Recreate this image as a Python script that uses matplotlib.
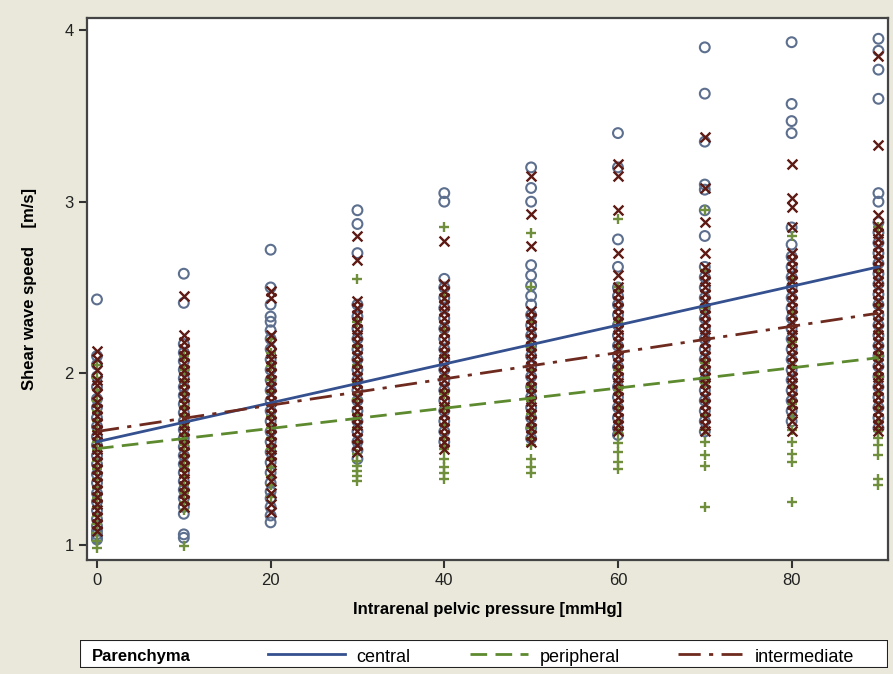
import matplotlib.pyplot as plt
from matplotlib.lines import Line2D
from matplotlib.patches import Rectangle

# pressure levels [mmHg]
pressure = [0, 10, 20, 30, 40, 50, 60, 70, 80, 90]

# shear wave speed readings per pressure level
central = [
    [2.43, 2.10, 2.05, 1.98, 1.92, 1.85, 1.80, 1.74, 1.69, 1.63, 1.58, 1.52, 1.47, 1.41, 1.36, 1.30, 1.25, 1.20, 1.15, 1.11, 1.08, 1.06, 1.04, 1.03],
    [2.58, 2.41, 2.17, 2.12, 2.07, 2.02, 1.97, 1.92, 1.87, 1.82, 1.77, 1.72, 1.67, 1.62, 1.57, 1.52, 1.47, 1.42, 1.37, 1.32, 1.27, 1.22, 1.18, 1.06, 1.04],
    [2.72, 2.50, 2.40, 2.33, 2.30, 2.25, 2.20, 2.14, 2.08, 2.02, 1.96, 1.90, 1.84, 1.78, 1.72, 1.66, 1.60, 1.54, 1.48, 1.42, 1.36, 1.31, 1.27, 1.22, 1.17, 1.13],
    [2.95, 2.87, 2.70, 2.40, 2.33, 2.26, 2.20, 2.14, 2.08, 2.02, 1.96, 1.90, 1.84, 1.78, 1.72, 1.66, 1.60, 1.55, 1.50],
    [3.05, 3.00, 2.55, 2.50, 2.44, 2.38, 2.32, 2.26, 2.20, 2.14, 2.08, 2.02, 1.96, 1.90, 1.84, 1.78, 1.72, 1.66, 1.60],
    [3.20, 3.08, 3.00, 2.63, 2.57, 2.51, 2.45, 2.40, 2.34, 2.28, 2.22, 2.16, 2.10, 2.04, 1.98, 1.92, 1.86, 1.80, 1.74, 1.68, 1.62],
    [3.40, 3.20, 2.78, 2.62, 2.50, 2.45, 2.40, 2.34, 2.28, 2.22, 2.16, 2.10, 2.04, 1.98, 1.92, 1.86, 1.80, 1.74, 1.68, 1.64],
    [3.90, 3.63, 3.35, 3.10, 3.07, 2.95, 2.80, 2.62, 2.56, 2.50, 2.44, 2.38, 2.32, 2.26, 2.20, 2.14, 2.08, 2.02, 1.96, 1.90, 1.84, 1.78, 1.72, 1.66],
    [3.93, 3.57, 3.47, 3.40, 2.85, 2.75, 2.68, 2.62, 2.56, 2.50, 2.44, 2.38, 2.32, 2.26, 2.20, 2.14, 2.08, 2.02, 1.96, 1.90, 1.84, 1.78, 1.72],
    [3.95, 3.88, 3.77, 3.60, 3.05, 3.00, 2.88, 2.82, 2.76, 2.70, 2.64, 2.58, 2.52, 2.46, 2.40, 2.34, 2.28, 2.22, 2.16, 2.10, 2.04, 1.98, 1.92, 1.86, 1.80, 1.74, 1.68],
]
peripheral = [
    [2.05, 1.97, 1.90, 1.84, 1.78, 1.72, 1.66, 1.60, 1.55, 1.49, 1.44, 1.38, 1.33, 1.27, 1.22, 1.17, 1.12, 1.07, 1.02, 0.98],
    [2.10, 2.02, 1.95, 1.88, 1.81, 1.75, 1.70, 1.64, 1.58, 1.52, 1.46, 1.40, 1.35, 1.30, 1.25, 1.20, 0.99],
    [2.20, 2.12, 2.04, 1.96, 1.89, 1.82, 1.75, 1.68, 1.62, 1.56, 1.50, 1.45, 1.40, 1.35, 1.28],
    [2.55, 2.30, 2.15, 2.05, 1.95, 1.85, 1.76, 1.68, 1.60, 1.53, 1.49, 1.46, 1.43, 1.40, 1.37],
    [2.85, 2.45, 2.25, 2.10, 1.98, 1.88, 1.79, 1.70, 1.62, 1.56, 1.50, 1.45, 1.42, 1.38],
    [2.82, 2.50, 2.30, 2.15, 2.02, 1.92, 1.84, 1.76, 1.68, 1.62, 1.58, 1.50, 1.45, 1.42],
    [2.90, 2.50, 2.30, 2.15, 2.02, 1.90, 1.80, 1.72, 1.65, 1.59, 1.54, 1.48, 1.44],
    [2.95, 2.60, 2.38, 2.20, 2.06, 1.94, 1.84, 1.75, 1.67, 1.60, 1.52, 1.46, 1.22],
    [2.80, 2.55, 2.35, 2.18, 2.04, 1.92, 1.82, 1.74, 1.67, 1.60, 1.53, 1.48, 1.25],
    [2.85, 2.60, 2.40, 2.24, 2.10, 1.98, 1.88, 1.80, 1.72, 1.66, 1.62, 1.58, 1.52, 1.38, 1.35],
]
intermediate = [
    [2.13, 2.08, 2.02, 1.96, 1.93, 1.88, 1.83, 1.79, 1.75, 1.71, 1.67, 1.64, 1.60, 1.56, 1.52, 1.48, 1.44, 1.40, 1.36, 1.32, 1.28, 1.24, 1.20, 1.16, 1.12, 1.08],
    [2.45, 2.22, 2.18, 2.14, 2.10, 2.06, 2.02, 1.98, 1.94, 1.90, 1.86, 1.82, 1.78, 1.74, 1.70, 1.66, 1.62, 1.58, 1.54, 1.50, 1.46, 1.42, 1.38, 1.34, 1.30, 1.26, 1.22],
    [2.48, 2.44, 2.22, 2.17, 2.12, 2.08, 2.04, 2.00, 1.96, 1.92, 1.88, 1.84, 1.80, 1.76, 1.72, 1.68, 1.64, 1.60, 1.56, 1.52, 1.48, 1.42, 1.37, 1.30, 1.24, 1.19],
    [2.80, 2.66, 2.42, 2.38, 2.34, 2.30, 2.26, 2.22, 2.18, 2.14, 2.10, 2.06, 2.02, 1.98, 1.94, 1.90, 1.86, 1.82, 1.78, 1.74, 1.70, 1.66, 1.62, 1.58, 1.54],
    [2.77, 2.52, 2.48, 2.44, 2.40, 2.36, 2.32, 2.28, 2.24, 2.20, 2.16, 2.12, 2.08, 2.04, 2.00, 1.96, 1.92, 1.88, 1.84, 1.80, 1.76, 1.72, 1.68, 1.64, 1.60, 1.56],
    [3.15, 2.93, 2.74, 2.36, 2.32, 2.28, 2.24, 2.20, 2.16, 2.12, 2.08, 2.04, 2.00, 1.96, 1.92, 1.88, 1.84, 1.80, 1.76, 1.72, 1.68, 1.64, 1.60],
    [3.22, 3.15, 2.95, 2.70, 2.57, 2.50, 2.46, 2.42, 2.38, 2.34, 2.30, 2.26, 2.22, 2.18, 2.14, 2.10, 2.06, 2.02, 1.98, 1.94, 1.90, 1.86, 1.82, 1.78, 1.74, 1.70, 1.66],
    [3.38, 3.08, 2.88, 2.70, 2.62, 2.58, 2.54, 2.50, 2.46, 2.42, 2.38, 2.34, 2.30, 2.26, 2.22, 2.18, 2.14, 2.10, 2.06, 2.02, 1.98, 1.94, 1.90, 1.86, 1.82, 1.78, 1.74, 1.70, 1.66],
    [3.22, 3.02, 2.97, 2.85, 2.70, 2.66, 2.62, 2.58, 2.54, 2.50, 2.46, 2.42, 2.38, 2.34, 2.30, 2.26, 2.22, 2.18, 2.14, 2.10, 2.06, 2.02, 1.98, 1.94, 1.90, 1.86, 1.82, 1.78, 1.72, 1.66],
    [3.85, 3.33, 2.92, 2.86, 2.82, 2.78, 2.74, 2.70, 2.66, 2.62, 2.58, 2.54, 2.50, 2.46, 2.42, 2.38, 2.34, 2.30, 2.26, 2.22, 2.18, 2.14, 2.10, 2.06, 2.02, 1.98, 1.94, 1.90, 1.86, 1.82, 1.78, 1.74, 1.70, 1.66],
]

# regression lines (value at 0 and at 90 mmHg)
fit_x = [0, 90]
fit_central = [1.60, 2.62]
fit_peripheral = [1.56, 2.09]
fit_intermediate = [1.66, 2.35]

BG = '#e9e8da'
C_CEN = '#5d6f8e'
C_PER = '#6f8f3c'
C_INT = '#5e1a14'
L_CEN = '#34508f'
L_PER = '#5d8a2e'
L_INT = '#6e2a1e'


def flatten(groups):
    xs, ys = [], []
    for p, vals in zip(pressure, groups):
        xs += [p] * len(vals)
        ys += vals
    return xs, ys


plt.rcParams['font.family'] = ['Liberation Sans', 'DejaVu Sans']

fig = plt.figure(figsize=(8.93, 6.74), dpi=100, facecolor=BG)
ax = fig.add_axes([0.0974, 0.169, 0.897, 0.804])
ax.set_facecolor('white')

x, y = flatten(central)
ax.scatter(x, y, s=50, marker='o', facecolors='none', edgecolors=C_CEN, linewidths=1.5, zorder=2)
x, y = flatten(peripheral)
ax.scatter(x, y, s=60, marker='+', color=C_PER, linewidths=1.7, zorder=2)
x, y = flatten(intermediate)
ax.scatter(x, y, s=50, marker='x', color=C_INT, linewidths=1.7, zorder=3)

ax.plot(fit_x, fit_central, color=L_CEN, lw=2.0, zorder=4)
ax.plot(fit_x, fit_peripheral, color=L_PER, lw=2.0, ls=(0, (6, 3)), zorder=4)
ax.plot(fit_x, fit_intermediate, color=L_INT, lw=2.0, ls=(0, (8, 3, 1.5, 3)), zorder=4)

ax.set_xlim(-1.15, 91.1)
ax.set_ylim(0.91, 4.07)
ax.set_xticks([0, 20, 40, 60, 80])
ax.set_yticks([1, 2, 3, 4])
ax.tick_params(direction='out', length=6, width=1.5, colors='#333333', labelsize=12, labelcolor='#222222')
for s in ax.spines.values():
    s.set_linewidth(1.6)
    s.set_color('#444444')

ax.set_xlabel('Intrarenal pelvic pressure [mmHg]', fontsize=12, fontweight='bold', labelpad=10)
ax.set_ylabel('Shear wave speed    [m/s]', fontsize=12, fontweight='bold', labelpad=20)

# legend strip at the bottom
lax = fig.add_axes([80 / 893, 1 - 668 / 674, 808 / 893, 28 / 674])
lax.set_xlim(0, 808)
lax.set_ylim(0, 1)
lax.axis('off')
lax.add_patch(Rectangle((0, 0), 808, 1, facecolor='white', edgecolor='#222222', lw=1.5))
lax.text(12, 0.45, 'Parenchyma', fontsize=12, va='center_baseline', ha='left', fontweight='semibold')
lax.add_line(Line2D([188, 265], [0.5, 0.5], color=L_CEN, lw=2.0))
lax.text(276, 0.45, 'central', fontsize=13, va='center_baseline', ha='left')
lax.add_line(Line2D([390, 448], [0.5, 0.5], color=L_PER, lw=2.0, ls=(0, (6, 3))))
lax.text(460, 0.45, 'peripheral', fontsize=13, va='center_baseline', ha='left')
lax.add_line(Line2D([598, 662], [0.5, 0.5], color=L_INT, lw=2.0, ls=(0, (8, 3, 1.5, 3))))
lax.text(675, 0.45, 'intermediate', fontsize=13, va='center_baseline', ha='left')

fig.savefig('out.png', dpi=100, facecolor=BG)
